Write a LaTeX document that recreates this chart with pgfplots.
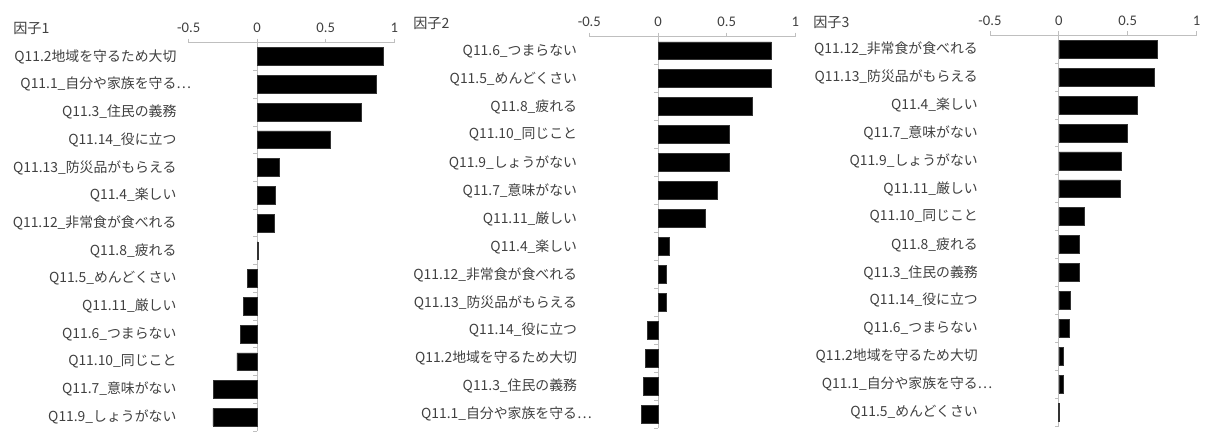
\documentclass[border=0pt]{standalone}
\usepackage{pgfplots}
\pgfplotsset{compat=1.18}
\usepackage{fontspec}
\newfontfamily\jp{Noto Sans CJK JP}
\newfontfamily\carl{Carlito}
\definecolor{axgray}{HTML}{BFBFBF}
\definecolor{txt}{HTML}{404040}
\pgfplotsset{
  fac/.style={
    scale only axis,
    xmin=-0.5, xmax=1,
    ymin=-0.5, ymax=13.5,
    y dir=reverse,
    xtick={-0.5,0,0.5,1},
    xticklabels={-0.5,0,0.5,1},
    axis x line*=top,
    axis y line*=left,
    y axis line style={draw=none},
    x axis line style={draw=axgray, line width=0.6pt},
    xtick style={draw=axgray, line width=0.6pt},
    ytick style={draw=none},
    tick align=outside,
    major tick length=3pt,
    xticklabel style={font=\carl\fontsize{11}{13}\selectfont, text=txt, yshift=1pt},
    ytick={0,...,13},
    yticklabel style={font=\jp\fontsize{10.4}{12}\selectfont, text=txt, anchor=east, inner sep=0pt, xshift=-6pt},
    xbar, bar width=0.64,
    clip=false,
  },
  barst/.style={fill=black, draw=black!80, line width=0.4pt},
}
\newcommand{\zeroline}{%
  \draw[axgray, line width=0.6pt] (axis cs:0,-0.5) -- (axis cs:0,13.5);
  \pgfplotsinvokeforeach{0.5,1.5,2.5,3.5,4.5,5.5,6.5,7.5,8.5,9.5,10.5,11.5,12.5,13.5}{\draw[axgray, line width=0.6pt] (axis cs:0,##1) -- ++(-3pt,0pt);}%
}
\begin{document}
\begin{tikzpicture}
\useasboundingbox (0,0) rectangle (906pt,329.25pt);
\node[anchor=west, inner sep=0pt, text=txt, font=\jp\fontsize{10.6}{12}\selectfont] at (9.75pt,308.25pt) {因子1};
\node[anchor=west, inner sep=0pt, text=txt, font=\jp\fontsize{10.6}{12}\selectfont] at (309.75pt,312pt) {因子2};
\node[anchor=west, inner sep=0pt, text=txt, font=\jp\fontsize{10.6}{12}\selectfont] at (609.75pt,312.75pt) {因子3};

\begin{axis}[fac, at={(141.5pt,297.2pt)}, anchor=north west, width=154.2pt, height=291.2pt,
  yticklabels={Q11.2地域を守るため大切, Q11.1\_自分や家族を守る\rlap{…}, Q11.3\_住民の義務, Q11.14\_役に立つ, Q11.13\_防災品がもらえる, Q11.4\_楽しい, Q11.12\_非常食が食べれる, Q11.8\_疲れる, Q11.5\_めんどくさい, Q11.11\_厳しい, Q11.6\_つまらない, Q11.10\_同じこと, Q11.7\_意味がない, Q11.9\_しょうがない}]
\zeroline
\addplot[barst] coordinates {(0.922,0) (0.871,1) (0.757,2) (0.532,3) (0.163,4) (0.133,5) (0.124,6) (0.005,7) (-0.073,8) (-0.102,9) (-0.124,10) (-0.148,11) (-0.318,12) (-0.323,13)};
\end{axis}

\begin{axis}[fac, at={(442.0pt,301.7pt)}, anchor=north west, width=154.5pt, height=293.7pt,
  yticklabels={Q11.6\_つまらない, Q11.5\_めんどくさい, Q11.8\_疲れる, Q11.10\_同じこと, Q11.9\_しょうがない, Q11.7\_意味がない, Q11.11\_厳しい, Q11.4\_楽しい, Q11.12\_非常食が食べれる, Q11.13\_防災品がもらえる, Q11.14\_役に立つ, Q11.2地域を守るため大切, Q11.3\_住民の義務, Q11.1\_自分や家族を守る\rlap{…}}]
\zeroline
\addplot[barst] coordinates {(0.826,0) (0.826,1) (0.685,2) (0.520,3) (0.520,4) (0.429,5) (0.344,6) (0.082,7) (0.061,8) (0.061,9) (-0.080,10) (-0.092,11) (-0.109,12) (-0.121,13)};
\end{axis}

\begin{axis}[fac, at={(742.5pt,302.8pt)}, anchor=north west, width=155.0pt, height=293.0pt,
  yticklabels={Q11.12\_非常食が食べれる, Q11.13\_防災品がもらえる, Q11.4\_楽しい, Q11.7\_意味がない, Q11.9\_しょうがない, Q11.11\_厳しい, Q11.10\_同じこと, Q11.8\_疲れる, Q11.3\_住民の義務, Q11.14\_役に立つ, Q11.6\_つまらない, Q11.2地域を守るため大切, Q11.1\_自分や家族を守る\rlap{…}, Q11.5\_めんどくさい}]
\zeroline
\addplot[barst] coordinates {(0.714,0) (0.692,1) (0.566,2) (0.498,3) (0.451,4) (0.442,5) (0.187,6) (0.146,7) (0.146,8) (0.083,9) (0.078,10) (0.029,11) (0.029,12) (-0.003,13)};
\end{axis}
\end{tikzpicture}
\end{document}
